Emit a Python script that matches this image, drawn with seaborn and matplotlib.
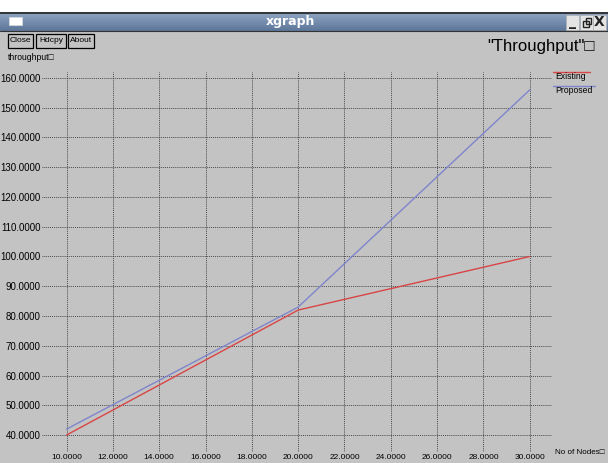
import numpy as np
import pandas as pd
import matplotlib
matplotlib.use("Agg")
import matplotlib.pyplot as plt
from matplotlib.patches import Rectangle
from matplotlib.lines import Line2D
import seaborn as sns

# Throughput versus number of nodes
nodes = [10, 20, 30]
existing = [40, 82, 100]
proposed = [42, 83, 156]
series_names = ["Existing", "Proposed"]
x_ticks = [10, 12, 14, 16, 18, 20, 22, 24, 26, 28, 30]
y_ticks = [40, 50, 60, 70, 80, 90, 100, 110, 120, 130, 140, 150, 160]

df = pd.DataFrame({
    "nodes": nodes * 2,
    "throughput": existing + proposed,
    "series": [series_names[0]] * len(nodes) + [series_names[1]] * len(nodes),
})

sns.set_theme(style="white")
plt.rcParams["font.family"] = ["Liberation Sans", "DejaVu Sans"]

W, H = 608, 463
BG = "#c3c3c3"
RED = "#d94545"
BLUE = "#7f85cc"

fig = plt.figure(figsize=(W / 100, H / 100), dpi=100, facecolor=BG)


def fx(x):
    return x / W


def fy(y):
    return 1 - y / H


def box(x0, y0, x1, y1, **kw):
    fig.add_artist(Rectangle((fx(x0), fy(y1)), (x1 - x0) / W, (y1 - y0) / H,
                             transform=fig.transFigure, **kw))


# window chrome: white strip, title bar with gradient
box(0, 0, W, 12, facecolor="white", edgecolor="none")
bar = fig.add_axes([0, fy(31), 1, 19 / H])
grad = np.linspace(0, 1, 32).reshape(-1, 1)
bar.imshow(grad, aspect="auto", cmap=matplotlib.colors.LinearSegmentedColormap.from_list(
    "tb", ["#90a6c4", "#5d7699"]), extent=[0, 1, 0, 1])
bar.set_xlim(0, 1)
bar.set_ylim(0, 1)
bar.axis("off")
fig.add_artist(Line2D([0, 1], [fy(12.5), fy(12.5)], transform=fig.transFigure,
                      color="#222222", lw=1.2))
fig.add_artist(Line2D([0, 1], [fy(31), fy(31)], transform=fig.transFigure,
                      color="#333333", lw=0.8))
fig.text(fx(290), fy(22), "xgraph", color="white", fontsize=9, fontweight="bold",
         family="DejaVu Sans", ha="center", va="center")
box(9, 17, 22, 25, facecolor="white", edgecolor="#dddddd", lw=0.5)

# minimise / restore / close buttons
for x0 in (566, 580, 593):
    box(x0, 15, x0 + 12.5, 30, facecolor="#e4e4e4", edgecolor="#b0b0b0", lw=0.5)
fig.text(fx(572.3), fy(22), "_", fontsize=10, fontweight="bold", family="DejaVu Sans",
         ha="center", va="center", color="#222222")
box(583, 20.5, 589, 26.5, facecolor="#e4e4e4", edgecolor="#222222", lw=1.0)
box(585.5, 18, 591, 23.5, facecolor="none", edgecolor="#222222", lw=1.0)
fig.text(fx(599.3), fy(22.5), "X", fontsize=10, fontweight="bold", family="DejaVu Sans",
         ha="center", va="center", color="#222222")

# control buttons
for label, x0, x1 in [("Close", 8, 33), ("Hdcpy", 36, 66), ("About", 68, 94)]:
    box(x0, 34, x1, 48, facecolor="none", edgecolor="black", lw=0.9)
    fig.text(fx((x0 + x1) / 2), fy(41), label, fontsize=6, ha="center", va="center",
             color="black")

fig.text(fx(8), fy(57), "throughput\u25a1", fontsize=6.2, ha="left", va="center", color="black")
fig.text(fx(487), fy(47), "\"Throughput\"\u25a1", fontsize=12, ha="left", va="center",
         color="black")
fig.text(fx(555), fy(453), "No of Nodes\u25a1", fontsize=5.8, ha="left", va="center",
         color="black")

# plotting area
ax = fig.add_axes([fx(42), fy(452), 510 / W, 380 / H])
ax.set_facecolor(BG)
sns.lineplot(data=df, x="nodes", y="throughput", hue="series",
             palette={series_names[0]: RED, series_names[1]: BLUE},
             linewidth=1.0, legend=False, ax=ax, zorder=3)
ax.set_xlim(8.94, 30.96)
ax.set_ylim(34.3, 162.0)
ax.set_xticks(x_ticks)
ax.set_yticks(y_ticks)
ax.set_xticklabels([f"{v:.4f}" for v in x_ticks], fontsize=6.0)
ax.set_yticklabels([f"{v:.4f}" for v in y_ticks], fontsize=7)
ax.tick_params(axis="both", length=0, pad=1, colors="black")
ax.tick_params(axis="x", pad=1.5)
ax.grid(True, color="#262626", linestyle=(0, (1, 1.3)), linewidth=0.6)
ax.set_axisbelow(True)
for s in ax.spines.values():
    s.set_visible(False)
ax.set_xlabel("")
ax.set_ylabel("")

# key in the right margin: a line drawn above each name
for name, col, ly, ty, x1 in [(series_names[0], RED, 71.5, 76.5, 590),
                               (series_names[1], BLUE, 85.5, 91, 595)]:
    fig.add_artist(Line2D([fx(553), fx(x1)], [fy(ly), fy(ly)], transform=fig.transFigure,
                          color=col, lw=1.0))
    fig.text(fx(555), fy(ty), name, fontsize=6.2, ha="left", va="center", color="black")

fig.savefig("out.png", dpi=100, facecolor=BG)
